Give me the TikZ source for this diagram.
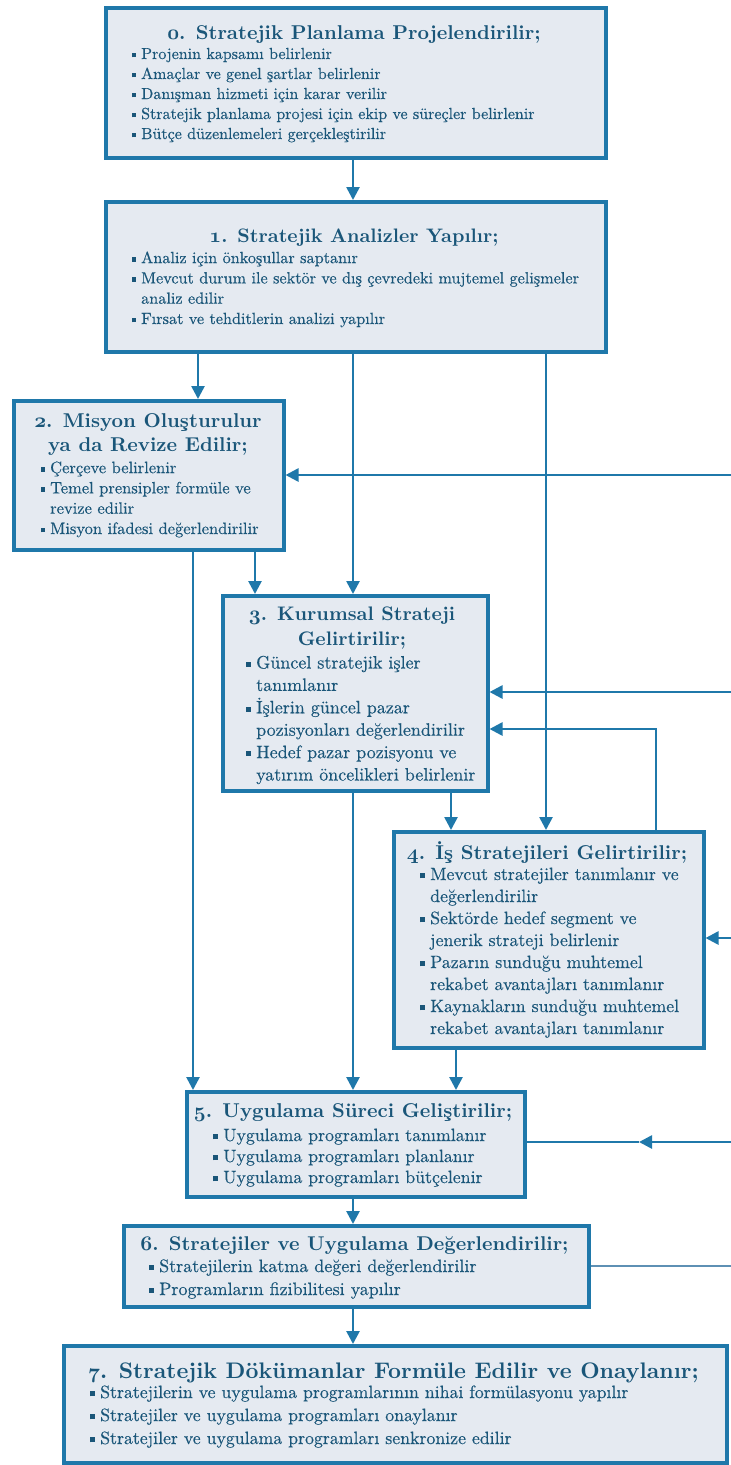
\documentclass[tikz,border=0pt]{standalone}
\usepackage{fontspec}
\usetikzlibrary{arrows.meta,calc}

% slightly heavier roman for the item lists, bold for the step titles
\newfontfamily\itemfont{lmroman10-regular}[Extension=.otf, FakeBold=0.35]
\newfontfamily\titlefont{lmroman10-bold}[Extension=.otf]

\definecolor{frame}{HTML}{1F78AA}
\definecolor{boxfill}{HTML}{E5EAF1}
\definecolor{ink}{HTML}{1A5679}
\definecolor{feed}{HTML}{5E90B4}

% square bullet hanging to the left of the item text
\newcommand\blt{\makebox[0pt][r]{\rule[0.22ex]{0.28em}{0.28em}\hspace{0.3em}}}
\newcommand\fs[2]{\fontsize{#1}{#2}\selectfont}
% bold old-style step number
\newcommand\osn[1]{{\usefont{OML}{cmm}{b}{it}#1}}

% multi-line nodes are placed by the baseline of their last line
\tikzset{
  x=1pt, y=-1pt,
  box/.style={draw=frame, line width=3.5pt, fill=boxfill, inner sep=0pt, anchor=north west},
  link/.style={draw=frame, line width=2.6pt},
  arr/.style={link, -{Triangle[length=13pt,width=13pt]}},
  ttl/.style={text=ink, align=center, inner sep=0pt, anchor=base},
  lst/.style={text=ink, align=left, inner sep=0pt, anchor=base west},
}

\begin{document}
\begin{tikzpicture}
\useasboundingbox (0,0) rectangle (731,1465);
\fill[white] (0,0) rectangle (731,1465);

% ---------- boxes ----------
\node[box, minimum width=500pt, minimum height=150pt] (b0) at (104,6) {};
\node[box, minimum width=500pt, minimum height=150pt] (b1) at (104,200) {};
\node[box, minimum width=270pt, minimum height=149pt] (b2) at (12,399) {};
\node[box, minimum width=265pt, minimum height=195pt] (b3) at (221,594) {};
\node[box, minimum width=310pt, minimum height=216pt] (b4) at (392,830) {};
\node[box, minimum width=338pt, minimum height=105pt] (b5) at (185,1090) {};
\node[box, minimum width=465pt, minimum height=81pt] (b6) at (122,1224) {};
\node[box, minimum width=663pt, minimum height=117pt] (b7) at (62,1344) {};

% ---------- texts ----------
\node[ttl, font=\titlefont\fs{20}{22}] (t0) at (354,39.5)
  {\osn{0}. Stratejik Planlama Projelendirilir;};
\node[lst, font=\itemfont\fs{16}{20}] (l0) at (141,139)
  {\blt Projenin kapsamı belirlenir\\
   \blt Amaçlar ve genel şartlar belirlenir\\
   \blt Danışman hizmeti için karar verilir\\
   \blt Stratejik planlama projesi için ekip ve süreçler belirlenir\\
   \blt Bütçe düzenlemeleri gerçekleştirilir};

\node[ttl, font=\titlefont\fs{19.5}{22}] (t1) at (354,242)
  {\osn{1}. Stratejik Analizler Yapılır;};
\node[lst, font=\itemfont\fs{16.2}{20.3}] (l1) at (141,324)
  {\blt Analiz için önkoşullar saptanır\\
   \blt Mevcut durum ile sektör ve dış çevredeki mujtemel gelişmeler\\
   analiz edilir\\
   \blt Fırsat ve tehditlerin analizi yapılır};

\node[ttl, font=\titlefont\fs{20}{24}] (t2) at (148,451)
  {\osn{2}. Misyon Oluşturulur\\ ya da Revize Edilir;};
\node[lst, font=\itemfont\fs{16.5}{20.3}] (l2) at (50,534)
  {\blt Çerçeve belirlenir\\
   \blt Temel prensipler formüle ve\\
   revize edilir\\
   \blt Misyon ifadesi değerlendirilir};

\node[ttl, font=\titlefont\fs{19.6}{25}] (t3) at (352,645)
  {\osn{3}. Kurumsal Strateji\\ Gelirtirilir;};
\node[lst, font=\itemfont\fs{18}{22.4}] (l3) at (256,780.5)
  {\blt Güncel stratejik işler\\
   tanımlanır\\
   \blt İşlerin güncel pazar\\
   pozisyonları değerlendirilir\\
   \blt Hedef pazar pozisyonu ve\\
   yatırım öncelikleri belirlenir};

\node[ttl, font=\titlefont\fs{20}{22}] (t4) at (547,859)
  {\osn{4}. İş Stratejileri Gelirtirilir;};
\node[lst, font=\itemfont\fs{17.8}{22}] (l4) at (430,1034)
  {\blt Mevcut stratejiler tanımlanır ve\\
   değerlendirilir\\
   \blt Sektörde hedef segment ve\\
   jenerik strateji belirlenir\\
   \blt Pazarın sunduğu muhtemel\\
   rekabet avantajları tanımlanır\\
   \blt Kaynakların sunduğu muhtemel\\
   rekabet avantajları tanımlanır};

\node[ttl, font=\titlefont\fs{20}{22}] (t5) at (353,1117)
  {\osn{5}. Uygulama Süreci Geliştirilir;};
\node[lst, font=\itemfont\fs{17.8}{21}] (l5) at (223,1183)
  {\blt Uygulama programları tanımlanır\\
   \blt Uygulama programları planlanır\\
   \blt Uygulama programları bütçelenir};

\node[ttl, font=\titlefont\fs{19.9}{22}] (t6) at (354.5,1250)
  {\osn{6}. Stratejiler ve Uygulama Değerlendirilir;};
\node[lst, font=\itemfont\fs{18}{23}] (l6) at (159,1295)
  {\blt Stratejilerin katma değeri değerlendirilir\\
   \blt Programların fizibilitesi yapılır};

\node[ttl, font=\titlefont\fs{22.5}{24}] (t7) at (393.5,1378)
  {\osn{7}. Stratejik Dökümanlar Formüle Edilir ve Onaylanır;};
\node[lst, font=\itemfont\fs{17.8}{23}] (l7) at (100,1444)
  {\blt Stratejilerin ve uygulama programlarının nihai formülasyonu yapılır\\
   \blt Stratejiler ve uygulama programları onaylanır\\
   \blt Stratejiler ve uygulama programları senkronize edilir};

% ---------- guide columns and rows for the connectors ----------
\coordinate (cMid) at (353,0);
\coordinate (cA) at (198,0);
\coordinate (cC) at (546,0);
\coordinate (cD) at (255,0);
\coordinate (cE) at (193,0);
\coordinate (cF) at (451,0);
\coordinate (cG) at (656,0);
\coordinate (cH) at (456,0);
\coordinate (eA) at (731,475);
\coordinate (eB) at (731,692);
\coordinate (jC) at (656,729);
\coordinate (eD) at (731,938);
\coordinate (eE) at (731,1142);
\coordinate (mE) at (639,1142);
\coordinate (eF) at (731,1266);

% ---------- downward flow ----------
\draw[arr] (b0.south -| cMid) -- (b1.north -| cMid);
\draw[arr] (b1.south -| cA) -- (b2.north -| cA);
\draw[arr] (b1.south -| cMid) -- (b3.north -| cMid);
\draw[arr] (b1.south -| cC) -- (b4.north -| cC);
\draw[arr] (b2.south -| cD) -- (b3.north -| cD);
\draw[arr] (b2.south -| cE) -- (b5.north -| cE);
\draw[arr] (b3.south -| cF) -- (b4.north -| cF);
\draw[arr] (b3.south -| cMid) -- (b5.north -| cMid);
\draw[arr] (b4.south -| cH) -- (b5.north -| cH);
\draw[arr] (b5.south -| cMid) -- (b6.north -| cMid);
\draw[arr] (b6.south -| cMid) -- (b7.north -| cMid);

% ---------- feedback lines entering from the right ----------
\draw[arr] (eA) -- (b2.east |- eA);
\draw[arr] (eB) -- (b3.east |- eB);
\draw[arr] (b4.north -| cG) -- (jC) -- (b3.east |- jC);
\draw[arr] (eD) -- (b4.east |- eD);
\draw[arr] (eE) -- (mE);
\draw[link] (mE) -- (b5.east |- mE);
\draw[draw=feed, line width=2.6pt] (b6.east |- eF) -- (eF);
\end{tikzpicture}
\end{document}
